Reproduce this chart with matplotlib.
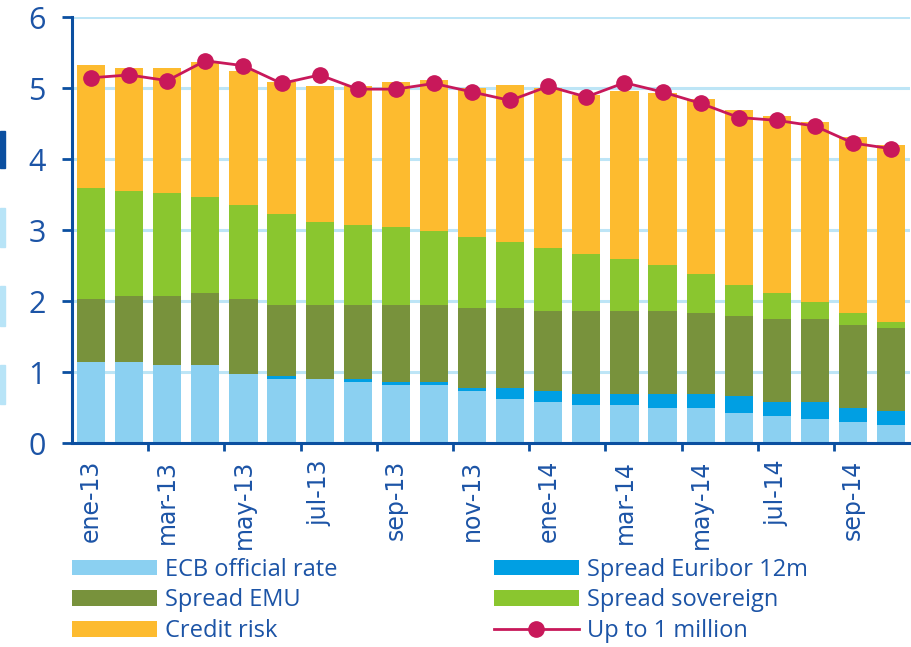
import matplotlib
matplotlib.use("Agg")
import matplotlib.pyplot as plt
import matplotlib.patches as mpatches
import numpy as np

# Months (22 bars, ene-13 .. oct-14); only every second month is labelled
months = ["ene-13", "feb-13", "mar-13", "abr-13", "may-13", "jun-13", "jul-13", "ago-13",
          "sep-13", "oct-13", "nov-13", "dic-13", "ene-14", "feb-14", "mar-14", "abr-14",
          "may-14", "jun-14", "jul-14", "ago-14", "sep-14", "oct-14"]

# Stacked components
ecb_rate = [1.14, 1.14, 1.10, 1.10, 0.98, 0.91, 0.90, 0.86, 0.82, 0.82, 0.74,
            0.62, 0.58, 0.54, 0.54, 0.50, 0.50, 0.42, 0.38, 0.34, 0.30, 0.26]
spread_euribor = [0.00, 0.00, 0.00, 0.00, 0.00, 0.03, 0.01, 0.04, 0.04, 0.04, 0.04,
                  0.16, 0.16, 0.16, 0.16, 0.20, 0.20, 0.24, 0.20, 0.24, 0.20, 0.20]
spread_emu = [0.89, 0.93, 0.97, 1.01, 1.05, 1.01, 1.04, 1.05, 1.09, 1.09, 1.13,
              1.13, 1.13, 1.17, 1.17, 1.17, 1.13, 1.13, 1.17, 1.17, 1.17, 1.17]
spread_sovereign = [1.57, 1.49, 1.45, 1.36, 1.33, 1.28, 1.17, 1.12, 1.09, 1.04, 1.00,
                    0.92, 0.88, 0.80, 0.72, 0.64, 0.56, 0.44, 0.36, 0.24, 0.16, 0.08]
credit_risk = [1.73, 1.73, 1.77, 1.90, 1.89, 1.86, 1.92, 1.97, 2.05, 2.13, 2.10,
               2.22, 2.26, 2.24, 2.38, 2.42, 2.46, 2.46, 2.50, 2.54, 2.49, 2.49]

# Line series
up_to_1m = [5.15, 5.19, 5.11, 5.39, 5.32, 5.07, 5.19, 4.99, 4.99, 5.07, 4.95,
            4.83, 5.03, 4.88, 5.08, 4.95, 4.79, 4.59, 4.55, 4.47, 4.23, 4.15]

series_names = ["ECB official rate", "Spread Euribor 12m", "Spread EMU",
                "Spread sovereign", "Credit risk"]
series_colors = ["#8bd0f1", "#009fe3", "#78923c", "#8ac62f", "#fdbb2f"]

text_blue = "#1c54a6"
axis_blue = "#0b4fa0"
grid_blue = "#bde5f6"
line_red = "#c8185a"

plt.rcParams['font.family'] = ['Open Sans', 'DejaVu Sans']

fig = plt.figure(figsize=(9.12, 6.47), dpi=100)
ax = fig.add_axes([0.079, 0.315, 0.919, 0.658])

x = np.arange(len(months))
bottom = np.zeros(len(months))
handles = []
for vals, name, col in zip([ecb_rate, spread_euribor, spread_emu, spread_sovereign, credit_risk],
                           series_names, series_colors):
    b = ax.bar(x, vals, width=0.74, bottom=bottom, color=col, label=name, zorder=2)
    handles.append(b)
    bottom = bottom + np.array(vals)

ln, = ax.plot(x, up_to_1m, color=line_red, linewidth=2, marker="o", markersize=11,
              label="Up to 1 million", zorder=3)

ax.set_xlim(-0.5, len(months) - 0.5)
ax.set_ylim(0, 6)
ax.set_yticks(range(0, 7))
ax.yaxis.grid(True, color=grid_blue, linewidth=2.2, zorder=0)
ax.set_axisbelow(True)

for s in ["top", "right"]:
    ax.spines[s].set_visible(False)
for s in ["left", "bottom"]:
    ax.spines[s].set_color(axis_blue)
    ax.spines[s].set_linewidth(2.2)

ax.tick_params(axis="y", colors=axis_blue, labelcolor=text_blue, labelsize=22,
               length=7, width=2, pad=12)

ax.set_xticks(x[::2])
ax.set_xticklabels(months[::2], rotation=90, fontsize=17, color=text_blue,
                   family=['DejaVu Sans'])
ax.tick_params(axis="x", which="major", length=0, pad=12)
ax.set_xticks(np.arange(1.5, len(months) - 0.5, 2), minor=True)
ax.tick_params(axis="x", which="minor", length=6, width=2, color=axis_blue)

# odd decoration strips at the left edge of the slide
fig.patches.append(mpatches.Rectangle((0, 1 - 168 / 647), 5 / 912, 37 / 647,
                                      transform=fig.transFigure, color="#0b4fa0"))
for y0, y1 in [(208, 247), (286, 326), (365, 404)]:
    fig.patches.append(mpatches.Rectangle((0, 1 - y1 / 647), 5 / 912, (y1 - y0) / 647,
                                          transform=fig.transFigure, color="#b8e4f7"))

leg_handles = [handles[0], handles[2], handles[4], handles[1], handles[3], ln]
leg = fig.legend(leg_handles, [h.get_label() for h in leg_handles], ncol=2,
                 loc="upper left", bbox_to_anchor=(0.079, 0.138), frameon=False,
                 fontsize=17, handlelength=3.6, handleheight=0.65, handletextpad=0.35,
                 labelspacing=0.28, columnspacing=6.6, borderpad=0, borderaxespad=0)
for t in leg.get_texts():
    t.set_color(text_blue)

fig.savefig("out.png", dpi=100)
